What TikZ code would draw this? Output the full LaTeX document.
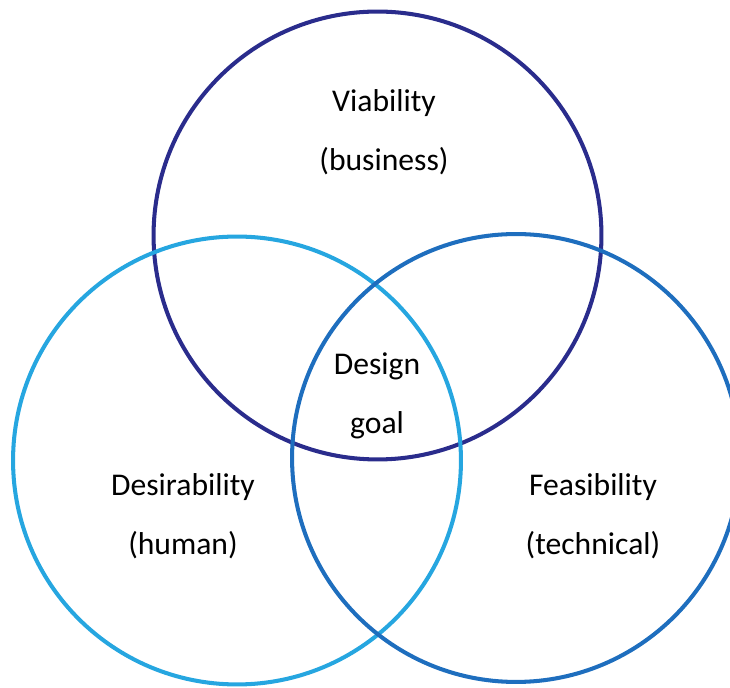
\documentclass[tikz,border=0pt]{standalone}
\usepackage{fontspec}
\setmainfont{Carlito}
\usetikzlibrary{positioning}

\definecolor{viacol}{RGB}{42,44,140}
\definecolor{descol}{RGB}{38,166,224}
\definecolor{feacol}{RGB}{30,110,190}

\begin{document}
\begin{tikzpicture}[x=0.02cm,y=-0.02cm,line width=2.3pt,
  ring/.style={circle,draw,inner sep=0pt,outer sep=0pt,minimum size=8.96cm},
  txt/.style={align=center,font=\fontsize{18}{33.5}\selectfont}]
	\useasboundingbox (0,0) rectangle (730,688);
	% the three sets
	\node[ring,draw=viacol](V) at (377.5,235.5) {};
	\node[ring,draw=descol](D) at (237,460.5) {};
	\node[ring,draw=feacol](F) at (516,458) {};
	% labels
	\node[txt](vtxt) at (384,132) {Viability\\(business)};
	\node[txt](dtxt) at (183,516) {Desirability\\(human)};
	\node[txt](ftxt) at (593,516) {Feasibility\\(technical)};
	\node[txt](goal) at (377,396) {Design\\goal};
\end{tikzpicture}
\end{document}
